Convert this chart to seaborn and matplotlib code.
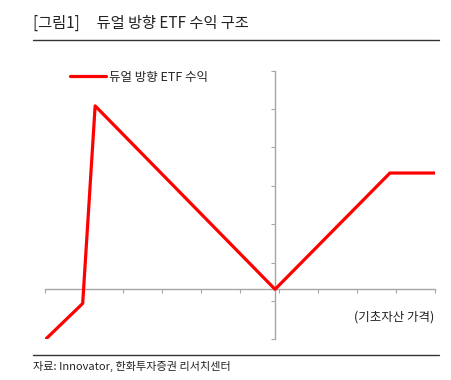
import numpy as np
import pandas as pd
import matplotlib
matplotlib.use("Agg")
import matplotlib.pyplot as plt
from matplotlib.lines import Line2D
import seaborn as sns

# Data (axis units: one unit = one tick interval, origin at the axes crossing)
x_vals = [-5.9, -4.94, -4.62, 0.0, 2.95, 4.11]
y_vals = [-1.31, -0.37, 4.78, 0.0, 3.03, 3.03]
series_name = "듀얼 방향 ETF 수익"
title_text = "[그림1]     듀얼 방향 ETF 수익 구조"
x_label_text = "(기초자산 가격)"
source_text = "자료: Innovator, 한화투자증권 리서치센터"

sns.set_theme(style="white")
plt.rcParams['font.family'] = ['Noto Sans CJK KR', 'DejaVu Sans']

W, H = 451, 380
fig = plt.figure(figsize=(W / 100, H / 100), dpi=100)
ax = fig.add_axes([45.3 / W, 1 - 339.3 / H, 389.4 / W, 268.6 / H])

df = pd.DataFrame({"x": x_vals, "y": y_vals, "s": series_name})
sns.lineplot(data=df, x="x", y="y", sort=False, estimator=None, color="#ff0000",
             linewidth=2.3, ax=ax, label=series_name, clip_on=True)

x_lo, x_hi = -5.9, 4.1
y_lo, y_hi = -1.303, 5.697
ax.set_xlim(x_lo, x_hi)
ax.set_ylim(y_lo, y_hi)

for s in ["top", "right"]:
    ax.spines[s].set_visible(False)
ax.spines["left"].set_position(("data", 0))
ax.spines["bottom"].set_position(("data", 0))
for s in ["left", "bottom"]:
    ax.spines[s].set_color("#a6a6a6")
    ax.spines[s].set_linewidth(1.0)
    ax.spines[s].set_zorder(1)

ax.set_xticks(x_lo + np.arange(11))
ax.set_yticks(y_lo + np.arange(8))
ax.tick_params(axis="both", which="both", direction="out", length=3, width=0.8,
               color="#a6a6a6", labelbottom=False, labelleft=False,
               bottom=True, left=True)
ax.set_xlabel("")
ax.set_ylabel("")
ax.patch.set_alpha(0)

leg = ax.legend(loc="center left", bbox_to_anchor=(70 / W, 1 - 77.3 / H),
                bbox_transform=fig.transFigure, frameon=False, fontsize=9,
                handlelength=2.9, handletextpad=0.25, borderpad=0, borderaxespad=0)

ax.text(434 / W, 1 - 316.7 / H, x_label_text, transform=fig.transFigure,
        ha="right", va="center", fontsize=9, color="#222222")

fig.text(33 / W, 1 - 23 / H, title_text, ha="left", va="center", fontsize=11,
         color="#222222")
fig.add_artist(Line2D([33 / W, 439 / W], [1 - 40 / H] * 2, color="#333333", lw=1.0))
fig.add_artist(Line2D([33 / W, 439 / W], [1 - 355 / H] * 2, color="#333333", lw=1.0))
fig.text(33 / W, 1 - 366.5 / H, source_text, ha="left", va="center", fontsize=8,
         color="#222222")

fig.savefig("out.png", dpi=100)
